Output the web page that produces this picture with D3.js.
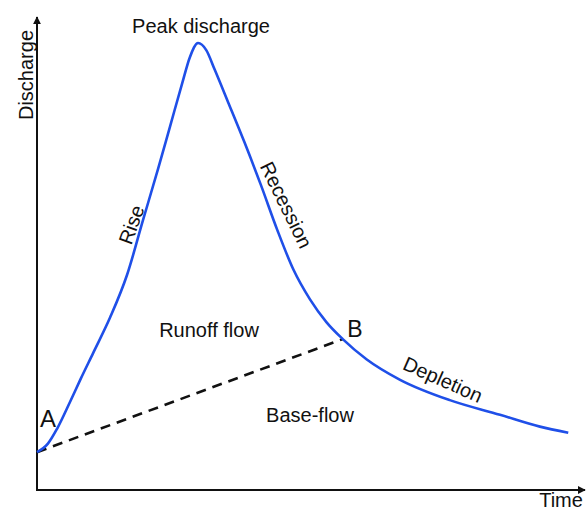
<!DOCTYPE html>
<html><head><meta charset="utf-8">
<script src="https://cdn.jsdelivr.net/npm/d3@7"></script>
<style>body{margin:0;background:#fff}svg{display:block}text{font-family:"Liberation Sans",Arial,sans-serif;fill:#111}</style>
</head><body>
<svg id="c" width="587" height="511"></svg>
<script>
// Hydrograph data (time, discharge)
const time      = [0, 2.0, 3.7, 6.0, 8.0, 10.3, 13.4, 16.5, 19.4, 22.2, 24.4, 26.6, 28.0, 29.5, 31.0, 32.5, 35.0, 38.0, 41.0, 44.0, 47.0, 50.0, 53.0, 56.0, 60.4, 66.5, 75.6, 84.8, 92.1, 97.3];
const discharge = [8.0, 9.8, 13.0, 18.5, 23.5, 29.0, 36.5, 45.5, 57.0, 68.0, 77.0, 86.0, 91.5, 94.5, 93.0, 89.0, 82.0, 73.5, 64.5, 55.0, 46.5, 40.3, 35.5, 31.9, 27.6, 23.3, 19.0, 15.9, 13.4, 12.1];
const baseflowTime = [0, 56.0];
const baseflowQ    = [8.0, 31.9];
const axisLabels = {x: "Time", y: "Discharge"};

const svg = d3.select("#c");
const x = d3.scaleLinear().domain([0, 100]).range([37, 583]);
const y = d3.scaleLinear().domain([0, 100]).range([490, 17]);

const defs = svg.append("defs");
defs.append("marker").attr("id","arr").attr("viewBox","0 0 10 10")
  .attr("refX",9).attr("refY",5).attr("markerWidth",4).attr("markerHeight",4)
  .attr("orient","auto").attr("markerUnits","strokeWidth")
  .append("path").attr("d","M0,0L10,5L0,10z").attr("fill","#111");

// axes
const xAxis = d3.axisBottom(x).tickValues([]).tickSizeOuter(0);
const yAxis = d3.axisLeft(y).tickValues([]).tickSizeOuter(0);
const gx = svg.append("g").attr("transform",`translate(0,${y(0)})`).call(xAxis);
const gy = svg.append("g").attr("transform",`translate(${x(0)},0)`).call(yAxis);
gx.select(".domain").attr("stroke","#111").attr("stroke-width",2).attr("marker-end","url(#arr)")
  .attr("d",`M${x(0)},0H${x(100)+2}`);
gy.select(".domain").attr("stroke","#111").attr("stroke-width",2).attr("marker-end","url(#arr)")
  .attr("d",`M0,${y(0)+1}V${y(100)}`);

// baseflow separation
const pts = baseflowTime.map((t,i)=>[t, baseflowQ[i]]);
svg.append("path").datum(pts)
  .attr("d", d3.line().x(d=>x(d[0])).y(d=>y(d[1])))
  .attr("stroke","#111").attr("stroke-width",2.6).attr("stroke-dasharray","10,7").attr("fill","none");

// hydrograph
const data = time.map((t,i)=>[t, discharge[i]]);
svg.append("path").datum(data)
  .attr("d", d3.line().x(d=>x(d[0])).y(d=>y(d[1])).curve(d3.curveMonotoneX))
  .attr("stroke","#1f4fe8").attr("stroke-width",2.6).attr("fill","none").attr("stroke-linejoin","round");

// labels
function lab(txt, px, py, size, rot, anchor){
  svg.append("text").attr("transform",`translate(${px},${py}) rotate(${rot||0})`)
    .attr("text-anchor", anchor||"middle").attr("font-size", size).text(txt);
}
lab(axisLabels.y, 33, 75, 20, -90);
lab(axisLabels.x, 561, 507, 20, 0);
lab("Peak discharge", 201, 33, 20, 0);
lab("Rise", 138, 227, 20, -70);
lab("Recession", 280, 208, 20, 64);
lab("Runoff flow", 209, 337, 20, 0);
lab("Base-flow", 310, 422, 20, 0);
lab("Depletion", 440, 386, 20, 24);
lab("A", 48, 427, 24, 0);
lab("B", 355, 337, 23, 0);
</script>
</body></html>
